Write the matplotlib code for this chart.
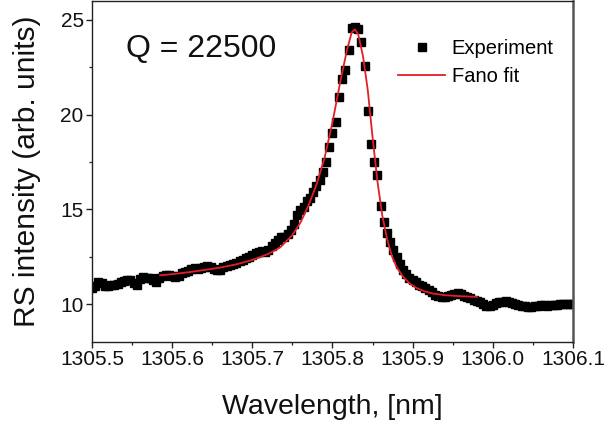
import numpy as np
import matplotlib
matplotlib.use("Agg")
import matplotlib.pyplot as plt
from matplotlib.ticker import MultipleLocator, FormatStrFormatter

plt.rcParams["font.family"] = ["Liberation Sans", "DejaVu Sans"]

# Measured Raman-scattering spectrum (wavelength grid in nm, intensity in arb. units)
wavelength = [
    1305.500, 1305.504, 1305.508, 1305.512, 1305.516, 1305.520, 1305.524, 1305.528,
    1305.532, 1305.536, 1305.540, 1305.544, 1305.548, 1305.552, 1305.556, 1305.560,
    1305.564, 1305.568, 1305.572, 1305.576, 1305.580, 1305.584, 1305.588, 1305.592,
    1305.596, 1305.600, 1305.604, 1305.608, 1305.612, 1305.616, 1305.620, 1305.624,
    1305.628, 1305.632, 1305.636, 1305.640, 1305.644, 1305.648, 1305.652, 1305.656,
    1305.660, 1305.664, 1305.668, 1305.672, 1305.676, 1305.680, 1305.684, 1305.688,
    1305.692, 1305.696, 1305.700, 1305.704, 1305.708, 1305.712, 1305.716, 1305.720,
    1305.724, 1305.728, 1305.732, 1305.736, 1305.740, 1305.744, 1305.748, 1305.752,
    1305.756, 1305.760, 1305.764, 1305.768, 1305.772, 1305.776, 1305.780, 1305.784,
    1305.788, 1305.792, 1305.796, 1305.800, 1305.804, 1305.808, 1305.812, 1305.816,
    1305.820, 1305.824, 1305.828, 1305.832, 1305.836, 1305.840, 1305.844, 1305.848,
    1305.852, 1305.856, 1305.860, 1305.864, 1305.868, 1305.872, 1305.876, 1305.880,
    1305.884, 1305.888, 1305.892, 1305.896, 1305.900, 1305.904, 1305.908, 1305.912,
    1305.916, 1305.920, 1305.924, 1305.928, 1305.932, 1305.936, 1305.940, 1305.944,
    1305.948, 1305.952, 1305.956, 1305.960, 1305.964, 1305.968, 1305.972, 1305.976,
    1305.980, 1305.984, 1305.988, 1305.992, 1305.996, 1306.000, 1306.004, 1306.008,
    1306.012, 1306.016, 1306.020, 1306.024, 1306.028, 1306.032, 1306.036, 1306.040,
    1306.044, 1306.048, 1306.052, 1306.056, 1306.060, 1306.064, 1306.068, 1306.072,
    1306.076, 1306.080, 1306.084, 1306.088, 1306.092, 1306.096, 1306.100,
]
intensity = [
    10.85, 10.95, 11.15, 11.10, 10.98, 10.95, 11.00, 11.02,
    11.08, 11.18, 11.22, 11.28, 11.25, 11.12, 11.02, 11.30,
    11.42, 11.40, 11.38, 11.28, 11.15, 11.40, 11.50, 11.52,
    11.55, 11.48, 11.42, 11.50, 11.62, 11.68, 11.75, 11.85,
    11.88, 11.85, 11.88, 11.95, 12.00, 11.98, 11.85, 11.78,
    11.82, 11.95, 12.00, 12.05, 12.12, 12.18, 12.28, 12.35,
    12.42, 12.50, 12.58, 12.68, 12.75, 12.78, 12.75, 12.85,
    13.05, 13.20, 13.38, 13.55, 13.55, 13.70, 13.90, 14.25,
    14.70, 14.95, 15.10, 15.45, 15.60, 15.90, 16.25, 16.55,
    16.95, 17.50, 18.30, 19.05, 19.60, 20.95, 21.90, 22.35,
    23.40, 24.55, 24.62, 24.50, 23.85, 22.55, 20.20, 18.45,
    17.50, 16.80, 15.20, 14.35, 13.75, 13.30, 12.85, 12.50,
    12.10, 11.80, 11.60, 11.40, 11.28, 11.15, 11.02, 10.95,
    10.85, 10.75, 10.62, 10.50, 10.42, 10.38, 10.40, 10.45,
    10.50, 10.56, 10.58, 10.52, 10.42, 10.38, 10.30, 10.20,
    10.15, 10.10, 10.00, 9.92, 9.88, 9.95, 10.05, 10.10,
    10.12, 10.15, 10.12, 10.08, 10.00, 9.95, 9.90, 9.88,
    9.85, 9.87, 9.92, 9.90, 9.93, 9.95, 9.92, 9.95,
    9.97, 9.95, 9.98, 10.00, 9.98, 10.00, 10.00,
]

# Fano line-shape fit evaluated over the resonance
fit_wavelength = [
    1305.585, 1305.600, 1305.620, 1305.640, 1305.660, 1305.680, 1305.700,
    1305.720, 1305.735, 1305.750, 1305.760, 1305.770, 1305.780, 1305.790,
    1305.800, 1305.810, 1305.818, 1305.824, 1305.828, 1305.832, 1305.838,
    1305.844, 1305.850, 1305.856, 1305.862, 1305.868, 1305.874, 1305.880,
    1305.888, 1305.896, 1305.905, 1305.915, 1305.925, 1305.940, 1305.955,
    1305.970, 1305.980,
]
fit_intensity = [
    11.52, 11.58, 11.68, 11.80, 11.93, 12.10, 12.33,
    12.65, 13.00, 13.65, 14.30, 15.20, 16.30, 17.70,
    19.60, 21.80, 23.40, 24.35, 24.50, 24.25, 23.10,
    21.30, 18.80, 16.50, 14.70, 13.45, 12.55, 11.95,
    11.45, 11.10, 10.85, 10.67, 10.56, 10.47, 10.43,
    10.40, 10.38,
]

x_ticks = [1305.5, 1305.6, 1305.7, 1305.8, 1305.9, 1306.0, 1306.1]
y_ticks = [10, 15, 20, 25]

fig = plt.figure(figsize=(6.06, 4.26), dpi=100)
ax = fig.add_axes([92 / 606, 1 - 342 / 426, 481 / 606, 341 / 426])

ax.plot(wavelength, intensity, linestyle="none", marker="s", markersize=5.6,
        color="black", label="Experiment", zorder=2)
ax.plot(fit_wavelength, fit_intensity, color="#e41e26", linewidth=1.3,
        label="Fano fit", zorder=3)

ax.set_xlim(1305.5, 1306.1)
ax.set_ylim(8, 26)
ax.set_xticks(x_ticks)
ax.set_yticks(y_ticks)
ax.xaxis.set_major_formatter(FormatStrFormatter("%.1f"))
ax.xaxis.set_minor_locator(MultipleLocator(0.05))
ax.yaxis.set_minor_locator(MultipleLocator(2.5))

ax.tick_params(which="major", direction="out", length=4, width=1.0,
               labelsize=15, pad=2, colors="#222222", labelcolor="#111111")
ax.tick_params(which="minor", direction="out", length=2.5, width=0.9,
               colors="#222222")
ax.tick_params(top=False, right=False, which="both")

for side in ("left", "bottom", "top"):
    ax.spines[side].set_linewidth(1.0)
    ax.spines[side].set_color("#222222")
ax.spines["right"].set_linewidth(1.8)
ax.spines["right"].set_color("#555555")

ax.set_xlabel("Wavelength, [nm]", fontsize=20.5, labelpad=18, color="#111111")
ax.set_ylabel("RS intensity (arb. units)", fontsize=21.5, labelpad=14,
              color="#111111")

ax.text(0.07, 0.86, "Q = 22500", transform=ax.transAxes, fontsize=23,
        va="center", ha="left", color="#111111")

ax.legend(loc="upper left", bbox_to_anchor=(0.637, 0.888), frameon=False,
          fontsize=14.5, numpoints=1, handlelength=2.3, handletextpad=0.35,
          labelspacing=0.45, borderpad=0, borderaxespad=0)

fig.savefig("out.png", dpi=100, facecolor="white")
